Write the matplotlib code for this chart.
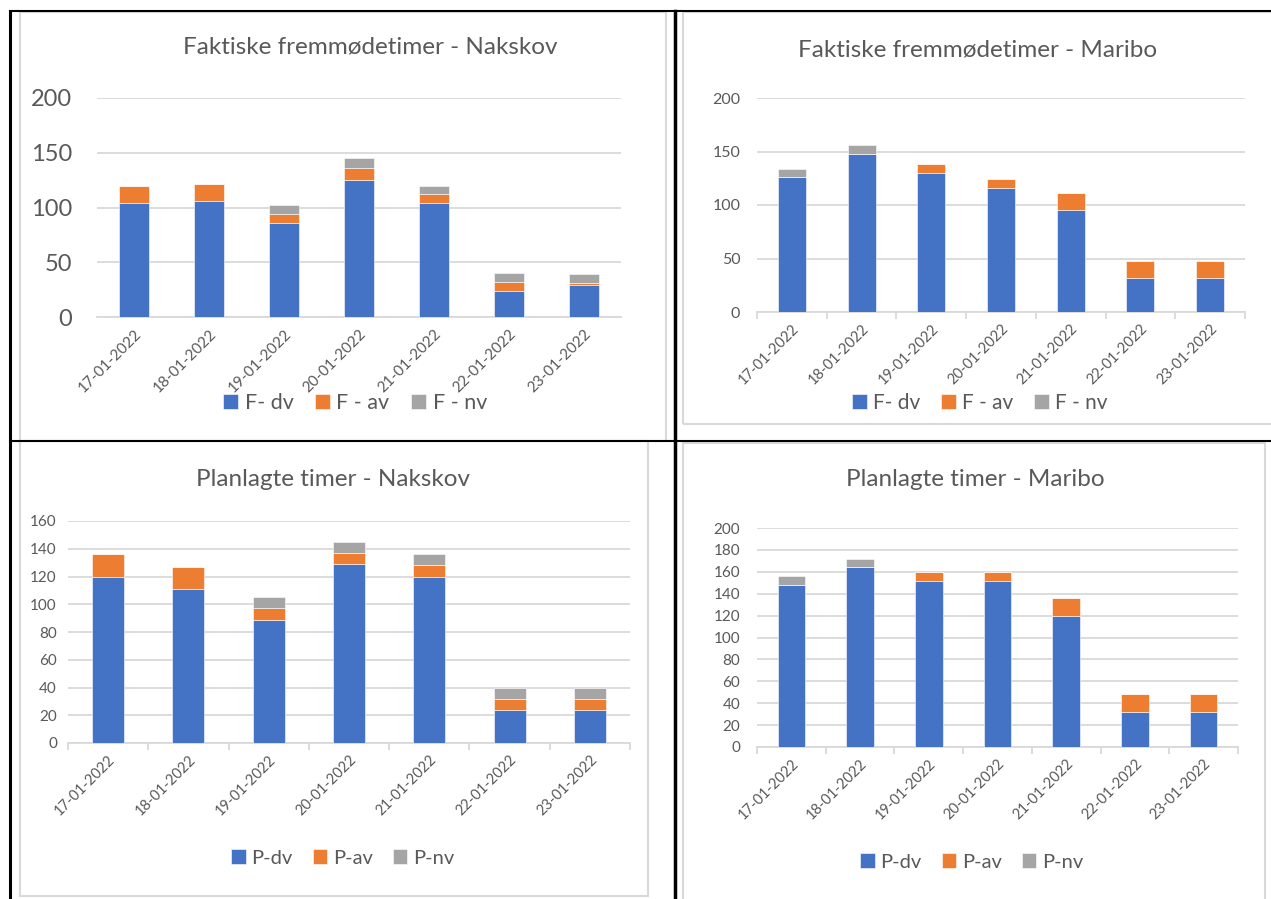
import numpy as np
import matplotlib.pyplot as plt
from matplotlib.patches import Rectangle
from matplotlib.lines import Line2D

plt.rcParams['font.family'] = ['Lato', 'DejaVu Sans']

dates = ['17-01-2022', '18-01-2022', '19-01-2022', '20-01-2022',
         '21-01-2022', '22-01-2022', '23-01-2022']

# Faktiske fremmødetimer - Nakskov
f_nak_dv = [104, 105.5, 86, 125.5, 104, 24, 29.5]
f_nak_av = [16, 16, 8.5, 11, 8, 8, 1.5]
f_nak_nv = [0, 0, 8, 8.5, 8, 8.5, 8]

# Faktiske fremmødetimer - Maribo
f_mar_dv = [126, 148, 130, 116, 95, 32, 32]
f_mar_av = [0, 0, 8, 8, 16.5, 16, 16]
f_mar_nv = [8, 8, 0, 0, 0, 0, 0]

# Planlagte timer - Nakskov
p_nak_dv = [120, 111, 89, 129, 120, 24, 24]
p_nak_av = [16, 16, 8, 8, 8, 8, 8]
p_nak_nv = [0, 0, 8, 8, 8, 8, 8]

# Planlagte timer - Maribo
p_mar_dv = [148, 164, 152, 152, 120, 32, 32]
p_mar_av = [0, 0, 8, 8, 16, 16, 16]
p_mar_nv = [8, 8, 0, 0, 0, 0, 0]

BLUE, ORANGE, GRAY = '#4472C4', '#ED7D31', '#A5A5A5'
TXT = '#595959'
GRID = '#D9D9D9'

W, H = 1271, 899
fig = plt.figure(figsize=(W / 100, H / 100), dpi=100)


def fx(x):
    return x / W


def fy(y):
    return 1 - y / H


def box(x0, y0, x1, y1, color, lw):
    fig.add_artist(Rectangle((fx(x0), fy(y1)), fx(x1) - fx(x0), fy(y0) - fy(y1),
                             transform=fig.transFigure, fill=False,
                             edgecolor=color, linewidth=lw))


def line(x0, y0, x1, y1, lw):
    fig.add_artist(Line2D([fx(x0), fx(x1)], [fy(y0), fy(y1)],
                          transform=fig.transFigure, color='black', linewidth=lw))


def chart(area, title, title_xy, series, names, ymax, step, ysize, xsize,
          legend_xy, legend_size, title_size, ypad=8, ticks=True):
    x0, y0, x1, y1 = area
    ax = fig.add_axes([fx(x0), fy(y1), fx(x1) - fx(x0), fy(y0) - fy(y1)])
    x = np.arange(len(dates))
    bottom = np.zeros(len(dates))
    for vals, col, name in zip(series, [BLUE, ORANGE, GRAY], names):
        ax.bar(x, vals, 0.4, bottom=bottom, color=col, label=name,
               edgecolor='white', linewidth=0.4, zorder=3)
        bottom += np.array(vals)
    ax.set_xlim(-0.5, len(dates) - 0.5)
    ax.set_ylim(0, ymax)
    ax.set_yticks(np.arange(0, ymax + 1, step))
    ax.grid(axis='y', color=GRID, linewidth=1.3, zorder=0)
    for s in ['top', 'right', 'left']:
        ax.spines[s].set_visible(False)
    ax.spines['bottom'].set_color(GRID)
    ax.spines['bottom'].set_linewidth(1.3)
    ax.set_xticks(x)
    ax.set_xticklabels(dates, rotation=45, ha='right', rotation_mode='anchor',
                       fontsize=xsize, color=TXT)
    ax.tick_params(axis='x', length=0, pad=7)
    ax.tick_params(axis='y', length=0, labelsize=ysize, labelcolor=TXT, pad=ypad)
    if ticks:
        ax.set_xticks(np.arange(-0.5, len(dates)), minor=True)
        ax.tick_params(axis='x', which='minor', length=5, color=GRID, width=1.3)
    fig.text(fx(title_xy[0]), fy(title_xy[1]), title, ha='center', va='center',
             fontsize=title_size, color=TXT)
    ax.legend(loc='center', bbox_to_anchor=(fx(legend_xy[0]), fy(legend_xy[1])),
              bbox_transform=fig.transFigure, ncol=3, frameon=False,
              fontsize=legend_size, labelcolor=TXT, handlelength=0.7,
              handleheight=0.7, handletextpad=0.3, columnspacing=1.0)
    return ax


# chart frames
box(20, 12, 666, 441, GRID, 1.5)
box(683, 12, 1290, 424, GRID, 1.5)
box(20, 441, 648, 896, GRID, 1.5)
box(683, 443, 1265, 910, GRID, 1.5)

chart((97, 98, 621, 317), 'Faktiske fremmødetimer - Nakskov', (370, 47),
      [f_nak_dv, f_nak_av, f_nak_nv], ['F- dv', 'F - av', 'F - nv'],
      200, 50, 17, 11, (355, 403), 15.5, 17.5, ypad=18, ticks=False)
chart((757, 98, 1245, 312), 'Faktiske fremmødetimer - Maribo', (978, 50),
      [f_mar_dv, f_mar_av, f_mar_nv], ['F- dv', 'F - av', 'F - nv'],
      200, 50, 11.5, 10.5, (980, 403), 15, 17.5, ypad=12)
chart((68, 521, 630, 743), 'Planlagte timer - Nakskov', (333, 480),
      [p_nak_dv, p_nak_av, p_nak_nv], ['P-dv', 'P-av', 'P-nv'],
      160, 20, 11, 10.5, (343, 858), 14.5, 17.5)
chart((757, 528, 1238, 747), 'Planlagte timer - Maribo', (975, 479),
      [p_mar_dv, p_mar_av, p_mar_nv], ['P-dv', 'P-av', 'P-nv'],
      200, 20, 11, 10.5, (972, 862), 14.5, 17.5, ypad=12)

# table borders
line(10, 11, 1271, 11, 1.5)
line(10, 11, 10, 899, 2.2)
line(675, 11, 675, 899, 2.5)
line(10, 440.5, 1271, 440.5, 1.5)

fig.savefig('out.png', dpi=100)
